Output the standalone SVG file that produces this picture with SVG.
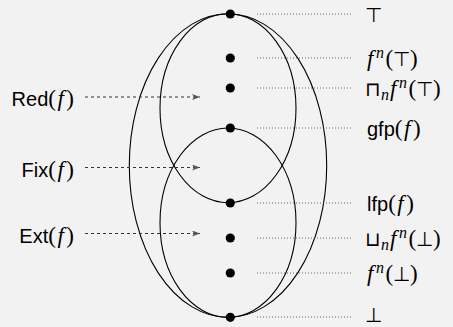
<svg xmlns="http://www.w3.org/2000/svg" width="453" height="327" viewBox="0 0 453 327">
<style>
text{font-size:20px;fill:#000}
.sf{font-family:"Liberation Sans","DejaVu Sans",sans-serif;font-size:20px}
.rm{font-family:"Liberation Serif","DejaVu Serif",serif;font-size:23px}
.it{font-family:"Liberation Serif","DejaVu Serif",serif;font-style:italic;font-size:23px}
.sy{font-family:"DejaVu Sans",sans-serif;font-weight:200;font-size:20px}
.sup{font-size:16px}
.region{fill:none;stroke:#000;stroke-width:1.1}
.dot{fill:#000}
.lead{stroke:#444;stroke-width:0.8;stroke-dasharray:1 2;fill:none}
.arr{stroke:#333;stroke-width:1;stroke-dasharray:3 3;fill:none;marker-end:url(#ah)}
</style>
<defs>
<marker id="ah" markerUnits="userSpaceOnUse" markerWidth="10" markerHeight="8" refX="8" refY="3" orient="auto">
<path d="M0,0 L8,3 L0,6 L2,3 Z" fill="#555"/>
</marker>
</defs>
<rect width="453" height="327" fill="#f2f2f2"/>
<g id="regions">
<ellipse id="outer" class="region" cx="228" cy="165.5" rx="98.7" ry="151.8"/>
<ellipse id="red-region" class="region" cx="228" cy="108.2" rx="68" ry="94.5"/>
<ellipse id="ext-region" class="region" cx="228" cy="222.7" rx="68" ry="94.7"/>
</g>
<g id="connectors">
<line class="arr" x1="85" y1="97" x2="200" y2="97"/>
<line class="arr" x1="85" y1="167.5" x2="200" y2="167.5"/>
<line class="arr" x1="85" y1="233.5" x2="200" y2="233.5"/>
<line class="lead" x1="257" y1="14" x2="353" y2="14"/>
<line class="lead" x1="257" y1="58" x2="353" y2="58"/>
<line class="lead" x1="257" y1="88" x2="353" y2="88"/>
<line class="lead" x1="257" y1="128" x2="353" y2="128"/>
<line class="lead" x1="257" y1="203" x2="353" y2="203"/>
<line class="lead" x1="257" y1="238" x2="353" y2="238"/>
<line class="lead" x1="257" y1="273" x2="353" y2="273"/>
<line class="lead" x1="257" y1="317" x2="353" y2="317"/>
</g>
<g id="top"><circle class="dot" cx="230.3" cy="14" r="4.6"/><text x="365" y="22" class="sy">⊤</text></g>
<g id="fn-top"><circle class="dot" cx="230.3" cy="58" r="4.6"/><text x="367" y="66"><tspan class="it">f</tspan><tspan class="it sup" dx="2.5" dy="-8">n</tspan><tspan class="rm" dx="1.5" dy="8">(</tspan><tspan class="sy">⊤</tspan><tspan class="rm">)</tspan></text></g>
<g id="meet"><circle class="dot" cx="230.3" cy="88" r="4.6"/><text x="365" y="96"><tspan class="sy">⊓</tspan><tspan class="it sup" dy="4">n</tspan><tspan class="it" dx="1" dy="-4">f</tspan><tspan class="it sup" dx="2.5" dy="-8">n</tspan><tspan class="rm" dx="1.5" dy="8">(</tspan><tspan class="sy">⊤</tspan><tspan class="rm">)</tspan></text></g>
<g id="gfp"><circle class="dot" cx="230.3" cy="128" r="4.6"/><text x="367" y="136"><tspan class="sf">gfp</tspan><tspan class="rm">(</tspan><tspan class="it" dx="1.5">f</tspan><tspan class="rm" dx="2.5">)</tspan></text></g>
<g id="lfp"><circle class="dot" cx="230.3" cy="203" r="4.6"/><text x="367" y="211"><tspan class="sf">lfp</tspan><tspan class="rm">(</tspan><tspan class="it" dx="1.5">f</tspan><tspan class="rm" dx="2.5">)</tspan></text></g>
<g id="join"><circle class="dot" cx="230.3" cy="238" r="4.6"/><text x="365" y="246"><tspan class="sy">⊔</tspan><tspan class="it sup" dy="4">n</tspan><tspan class="it" dx="1" dy="-4">f</tspan><tspan class="it sup" dx="2.5" dy="-8">n</tspan><tspan class="rm" dx="1.5" dy="8">(</tspan><tspan class="sy">⊥</tspan><tspan class="rm">)</tspan></text></g>
<g id="fn-bot"><circle class="dot" cx="230.3" cy="273" r="4.6"/><text x="367" y="281"><tspan class="it">f</tspan><tspan class="it sup" dx="2.5" dy="-8">n</tspan><tspan class="rm" dx="1.5" dy="8">(</tspan><tspan class="sy">⊥</tspan><tspan class="rm">)</tspan></text></g>
<g id="bottom"><circle class="dot" cx="230.3" cy="317.3" r="4.6"/><text x="365" y="322" class="sy">⊥</text></g>
<g id="red-label"><text x="74" y="106" text-anchor="end"><tspan class="sf">Red</tspan><tspan class="rm">(</tspan><tspan class="it" dx="1.5">f</tspan><tspan class="rm" dx="2.5">)</tspan></text></g>
<g id="fix-label"><text x="74" y="177" text-anchor="end"><tspan class="sf">Fix</tspan><tspan class="rm">(</tspan><tspan class="it" dx="1.5">f</tspan><tspan class="rm" dx="2.5">)</tspan></text></g>
<g id="ext-label"><text x="74" y="243" text-anchor="end"><tspan class="sf">Ext</tspan><tspan class="rm">(</tspan><tspan class="it" dx="1.5">f</tspan><tspan class="rm" dx="2.5">)</tspan></text></g>
</svg>
